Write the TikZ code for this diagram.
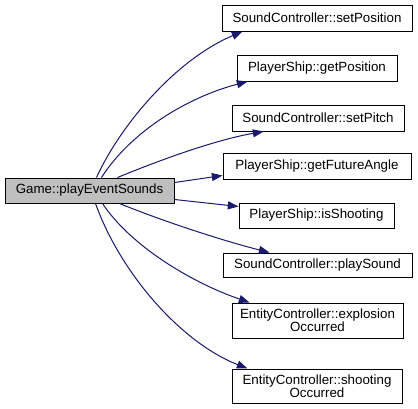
\documentclass[tikz,border=0pt]{standalone}
\usepackage{fontspec}
\setmainfont{Liberation Sans}
\usetikzlibrary{arrows.meta,calc}
\definecolor{edgeblue}{HTML}{191970}
\definecolor{srcgray}{HTML}{BFBFBF}
\begin{document}
\begin{tikzpicture}[x=0.75pt,y=-0.75pt,
  fbox/.style={draw=black,line width=0.75pt,inner sep=0pt,align=center,
    font=\fontsize{10pt}{10pt}\selectfont,minimum height=26*0.75pt},
  srcbox/.style={fbox,fill=srcgray},
  call/.style={draw=edgeblue,line width=0.75pt,
    -{Triangle[length=8pt,width=6pt,fill=edgeblue]}}]
\useasboundingbox (0,0) rectangle (418,408);
\node[srcbox,minimum width=169*0.75pt,minimum height=25*0.75pt] (src) at (89.5,190.5) {Game::playEventSounds};
\node[fbox,minimum width=190*0.75pt] (t1) at (317,18) {SoundController::setPosition};
\node[fbox,minimum width=160*0.75pt] (t2) at (317,68) {PlayerShip::getPosition};
\node[fbox,minimum width=172*0.75pt] (t3) at (318,118) {SoundController::setPitch};
\node[fbox,minimum width=188*0.75pt] (t4) at (317,166) {PlayerShip::getFutureAngle};
\node[fbox,minimum width=155*0.75pt,minimum height=25*0.75pt] (t5) at (316.5,215.5) {PlayerShip::isShooting};
\node[fbox,minimum width=189*0.75pt,minimum height=24*0.75pt] (t6) at (317.5,265) {SoundController::playSound};
\node[fbox,minimum width=171*0.75pt,minimum height=35*0.75pt] (t7) at (317.5,320.5) {EntityController::explosion\\Occurred};
\node[fbox,minimum width=170*0.75pt,minimum height=34*0.75pt] (t8) at (317,386) {EntityController::shooting\\Occurred};
\draw[call] ($(src.north west)+(92,0)$) .. controls (120,126) and (175,60) .. ($(t1.south west)+(21,0)$);
\draw[call] ($(src.north west)+(97,0)$) .. controls (130,133) and (185,98) .. ($(t2.south west)+(11,0)$);
\draw[call] ($(src.north west)+(113,0)$) .. controls (160,160) and (215,140) .. ($(t3.south west)+(32,0)$);
\draw[call] ($(src.north east)+(0,5)$) -- ($(t4.south west)+(0,-4)$);
\draw[call] ($(src.south east)+(0,-4)$) -- ($(t5.north west)+(0,4)$);
\draw[call] ($(src.south west)+(115,0)$) .. controls (160,220) and (220,240) .. ($(t6.north west)+(47,0)$);
\draw[call] ($(src.south west)+(98,0)$) .. controls (130,245) and (190,282) .. ($(t7.north west)+(18,0)$);
\draw[call] ($(src.south west)+(91,0)$) .. controls (120,272) and (180,342) .. ($(t8.north west)+(16,0)$);
\end{tikzpicture}
\end{document}
